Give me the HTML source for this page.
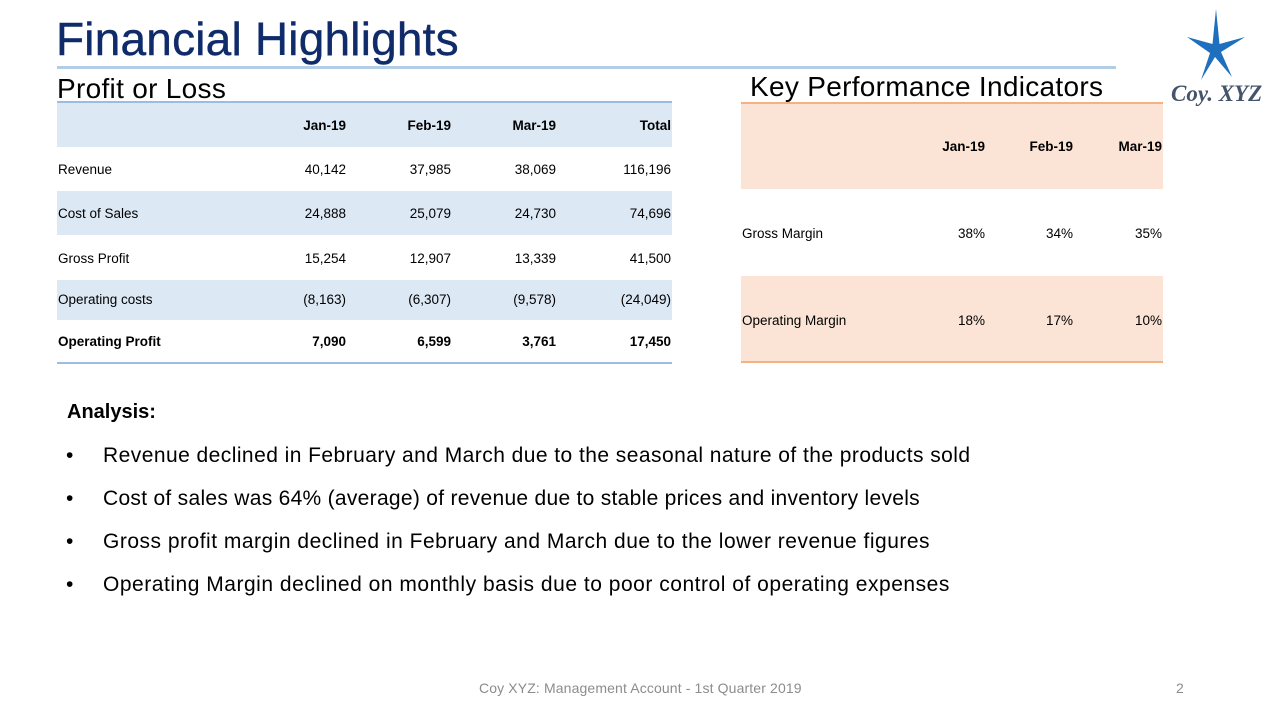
<!DOCTYPE html>
<html><head><meta charset="utf-8">
<style>
html,body{margin:0;padding:0;background:#fff;}
body{width:1280px;height:720px;position:relative;overflow:hidden;font-family:"Liberation Sans",Arial,sans-serif;}
.a{position:absolute;white-space:nowrap;}
.t{font-size:13.5px;line-height:16px;color:#000;}
.r{text-align:right;width:120px;}
.b{font-weight:bold;}
.an{font-size:21px;line-height:24px;color:#000;}
</style></head><body>

<!-- Title -->
<div class="a" style="left:56px;top:12px;font-size:46px;line-height:54px;color:#102b6a;letter-spacing:0.2px;-webkit-text-stroke:0.4px #102b6a;">Financial Highlights</div>
<div class="a" style="left:57px;top:66px;width:1059px;height:3px;background:#b4cde6;"></div>

<!-- Logo -->
<svg class="a" style="left:0;top:0" width="1280" height="120">
<path d="M1216,9 L1219.5,44 L1245,37 L1221,52 L1232,77 L1215,57 L1201,80 L1210,53 L1187,37 L1212.5,44 Z" fill="#1f6fbf"/>
</svg>
<div class="a" style="left:1171px;top:80px;font-family:'Liberation Serif',serif;font-style:italic;font-weight:bold;font-size:23px;line-height:28px;color:#44546a;">Coy. XYZ</div>

<!-- Profit or Loss -->
<div class="a" style="left:57px;top:72px;font-size:28px;line-height:34px;color:#000;letter-spacing:0.3px;">Profit or Loss</div>
<div class="a" style="left:57px;top:101px;width:615px;height:2px;background:#9dbde0;"></div>
<div class="a" style="left:57px;top:103px;width:615px;height:44px;background:#dde8f5;"></div>
<div class="a" style="left:57px;top:191px;width:615px;height:44px;background:#dde8f5;"></div>
<div class="a" style="left:57px;top:280px;width:615px;height:40px;background:#dde8f5;"></div>
<div class="a" style="left:57px;top:362px;width:615px;height:2px;background:#9dbde0;"></div>

<!-- header -->
<div class="a t r b" style="left:226px;top:118px;">Jan-19</div>
<div class="a t r b" style="left:331px;top:118px;">Feb-19</div>
<div class="a t r b" style="left:436px;top:118px;">Mar-19</div>
<div class="a t r b" style="left:551px;top:118px;">Total</div>

<div class="a t" style="left:58px;top:162px;">Revenue</div>
<div class="a t r" style="left:226px;top:162px;">40,142</div>
<div class="a t r" style="left:331px;top:162px;">37,985</div>
<div class="a t r" style="left:436px;top:162px;">38,069</div>
<div class="a t r" style="left:551px;top:162px;">116,196</div>

<div class="a t" style="left:58px;top:206px;">Cost of Sales</div>
<div class="a t r" style="left:226px;top:206px;">24,888</div>
<div class="a t r" style="left:331px;top:206px;">25,079</div>
<div class="a t r" style="left:436px;top:206px;">24,730</div>
<div class="a t r" style="left:551px;top:206px;">74,696</div>

<div class="a t" style="left:58px;top:251px;">Gross Profit</div>
<div class="a t r" style="left:226px;top:251px;">15,254</div>
<div class="a t r" style="left:331px;top:251px;">12,907</div>
<div class="a t r" style="left:436px;top:251px;">13,339</div>
<div class="a t r" style="left:551px;top:251px;">41,500</div>

<div class="a t" style="left:58px;top:292px;">Operating costs</div>
<div class="a t r" style="left:226px;top:292px;">(8,163)</div>
<div class="a t r" style="left:331px;top:292px;">(6,307)</div>
<div class="a t r" style="left:436px;top:292px;">(9,578)</div>
<div class="a t r" style="left:551px;top:292px;">(24,049)</div>

<div class="a t b" style="left:58px;top:334px;">Operating Profit</div>
<div class="a t r b" style="left:226px;top:334px;">7,090</div>
<div class="a t r b" style="left:331px;top:334px;">6,599</div>
<div class="a t r b" style="left:436px;top:334px;">3,761</div>
<div class="a t r b" style="left:551px;top:334px;">17,450</div>

<!-- KPI -->
<div class="a" style="left:750px;top:70px;font-size:28px;line-height:34px;color:#000;letter-spacing:0.3px;">Key Performance Indicators</div>
<div class="a" style="left:741px;top:103px;width:422px;height:86px;background:#fbe4d6;"></div>
<div class="a" style="left:741px;top:102px;width:422px;height:2px;background:#f4b183;"></div>
<div class="a" style="left:741px;top:276px;width:422px;height:86px;background:#fbe4d6;"></div>
<div class="a" style="left:741px;top:361px;width:422px;height:2px;background:#f4b183;"></div>

<div class="a t r b" style="left:865px;top:139px;">Jan-19</div>
<div class="a t r b" style="left:953px;top:139px;">Feb-19</div>
<div class="a t r b" style="left:1042px;top:139px;">Mar-19</div>

<div class="a t" style="left:742px;top:226px;">Gross Margin</div>
<div class="a t r" style="left:865px;top:226px;">38%</div>
<div class="a t r" style="left:953px;top:226px;">34%</div>
<div class="a t r" style="left:1042px;top:226px;">35%</div>

<div class="a t" style="left:742px;top:313px;">Operating Margin</div>
<div class="a t r" style="left:865px;top:313px;">18%</div>
<div class="a t r" style="left:953px;top:313px;">17%</div>
<div class="a t r" style="left:1042px;top:313px;">10%</div>

<!-- Analysis -->
<div class="a b" style="left:67px;top:400px;font-size:20px;line-height:24px;color:#000;">Analysis:</div>
<div class="a an" style="left:66px;top:444px;">•</div>
<div class="a an" style="left:103px;top:444px;letter-spacing:0.45px;">Revenue declined in February and March due to the seasonal nature of the products sold</div>
<div class="a an" style="left:66px;top:487px;">•</div>
<div class="a an" style="left:103px;top:487px;letter-spacing:0.29px;">Cost of sales was 64% (average) of revenue due to stable prices and inventory levels</div>
<div class="a an" style="left:66px;top:530px;">•</div>
<div class="a an" style="left:103px;top:530px;letter-spacing:0.5px;">Gross profit margin declined in February and March due to the lower revenue figures</div>
<div class="a an" style="left:66px;top:573px;">•</div>
<div class="a an" style="left:103px;top:573px;letter-spacing:0.52px;">Operating Margin declined on monthly basis due to poor control of operating expenses</div>

<!-- Footer -->
<div class="a" style="left:479px;top:680px;font-size:14px;line-height:16px;color:#8c8c8c;letter-spacing:0.13px;">Coy XYZ: Management Account - 1st Quarter 2019</div>
<div class="a" style="left:1176px;top:680px;font-size:14px;line-height:16px;color:#8c8c8c;">2</div>

</body></html>
